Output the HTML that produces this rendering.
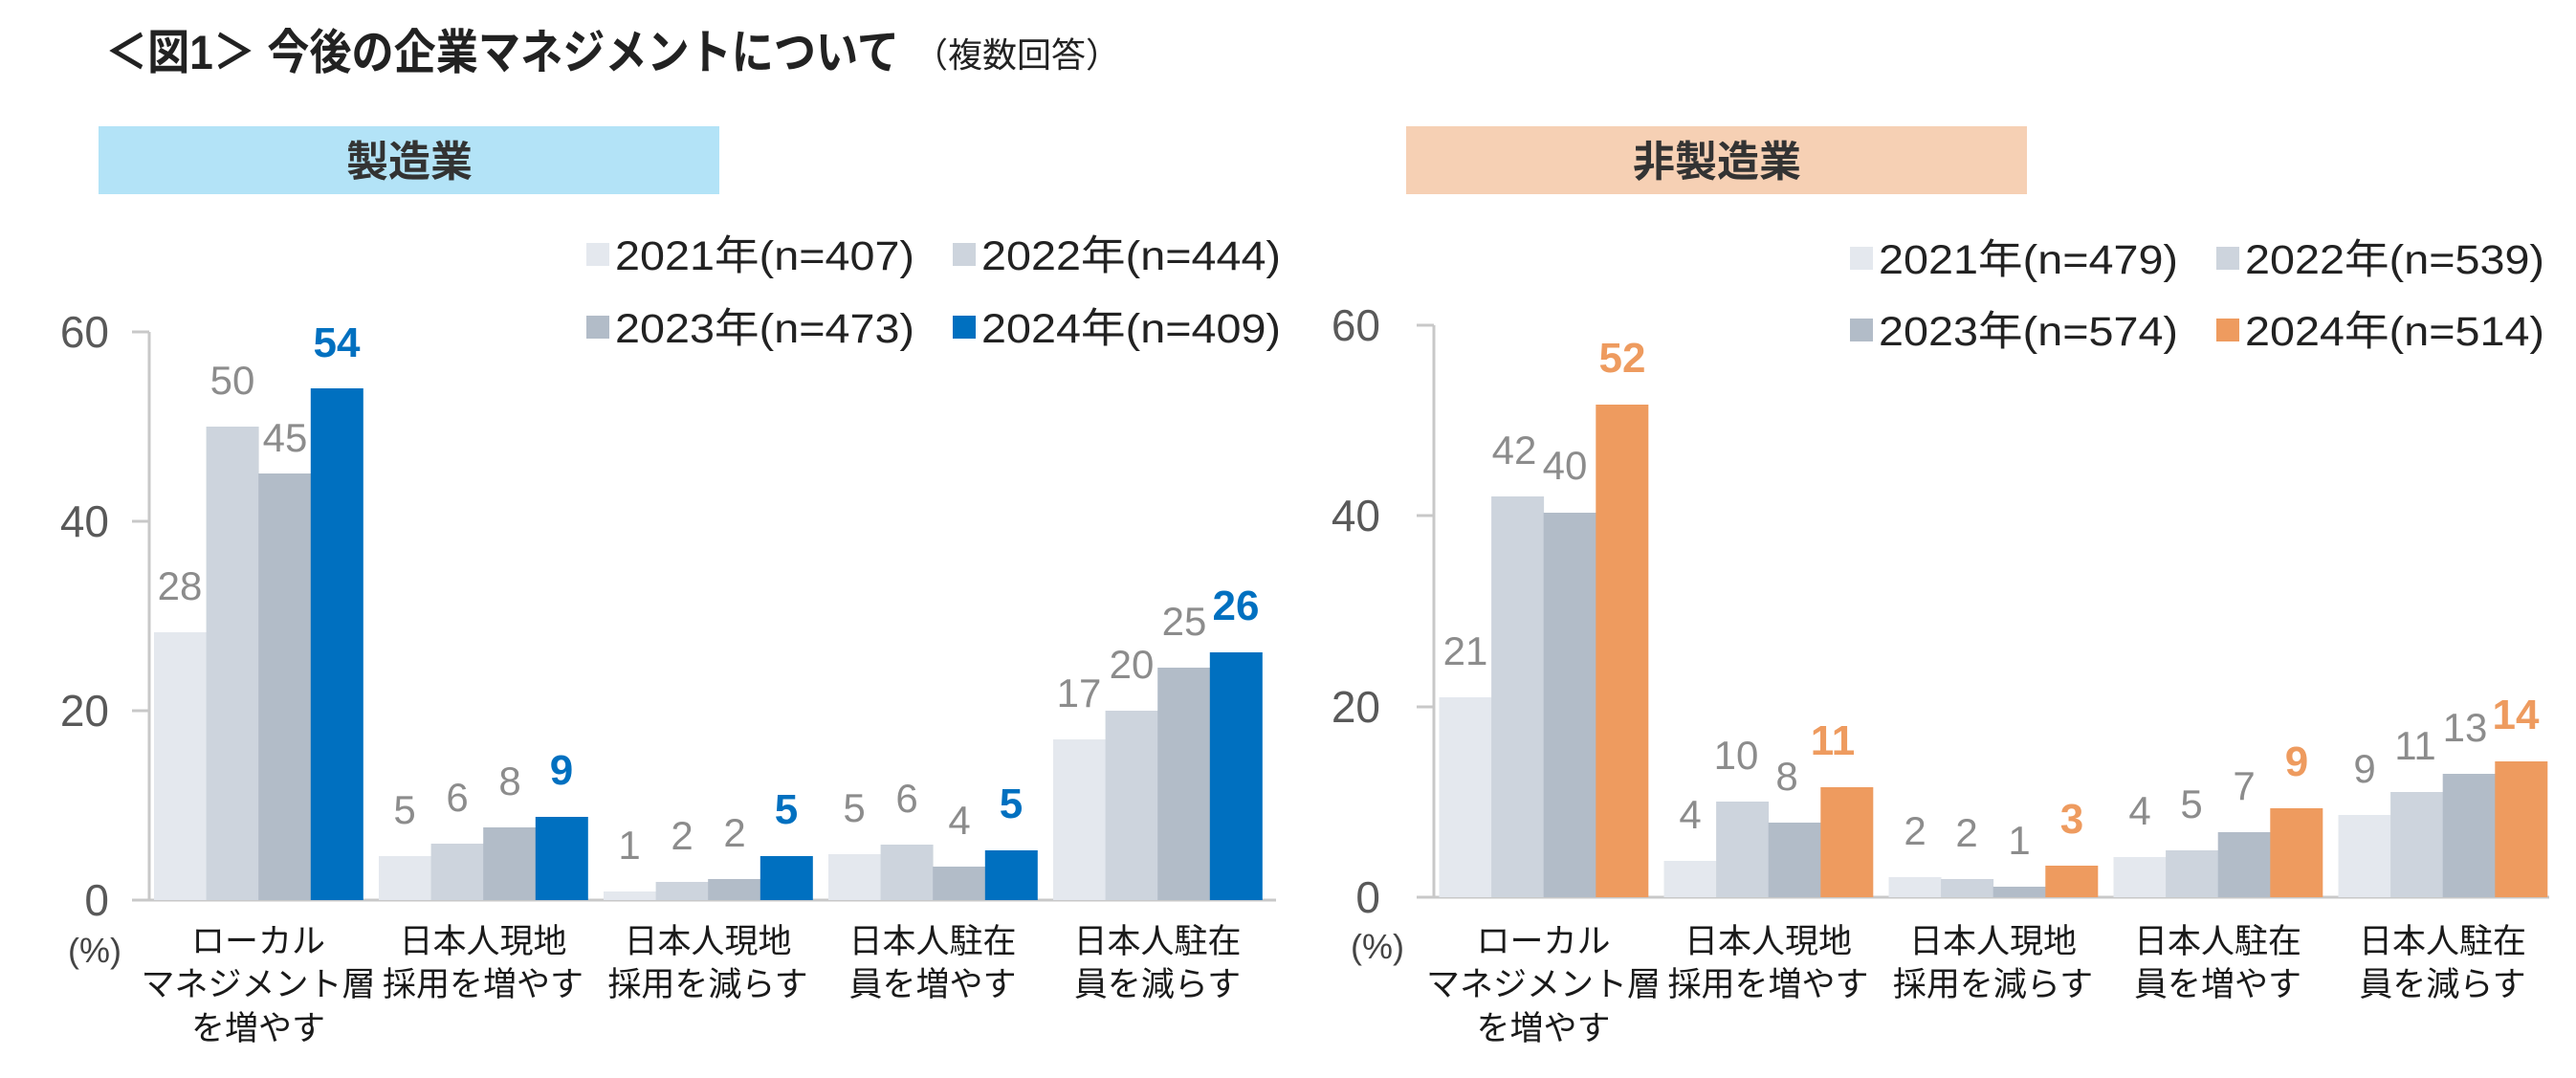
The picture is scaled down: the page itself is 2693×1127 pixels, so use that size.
<!DOCTYPE html>
<html><head><meta charset="utf-8"><style>
html,body{margin:0;padding:0;background:#fff;}
svg{display:block;font-family:"Liberation Sans","Noto Sans CJK JP",sans-serif;}
.t{font-size:46px;fill:#595959;}
.v{font-size:42px;fill:#8c8c8c;text-anchor:middle;}
.vb{font-size:44px;font-weight:bold;text-anchor:middle;}
.lg{font-size:43px;fill:#222;}
.c{font-size:35px;fill:#1a1a1a;text-anchor:middle;}
</style></head><body>
<svg width="2693" height="1127" viewBox="0 0 2693 1127" xmlns="http://www.w3.org/2000/svg">
<text x="110" y="72" font-size="50" font-weight="bold" fill="#222" textLength="830" lengthAdjust="spacingAndGlyphs">＜図1＞ 今後の企業マネジメントについて</text>
<text x="955" y="70" font-size="36" fill="#222">（複数回答）</text>
<rect x="103" y="132" width="649" height="71" fill="#b3e3f7"/>
<text x="428" y="184" font-size="44" font-weight="bold" fill="#333" text-anchor="middle">製造業</text>
<rect x="1470" y="132" width="649" height="71" fill="#f6d0b4"/>
<text x="1795" y="184" font-size="44" font-weight="bold" fill="#333" text-anchor="middle">非製造業</text>

<!-- Left legend -->
<rect x="613" y="254" width="24" height="24" fill="#e4e8ee"/><text class="lg" x="643" y="282" textLength="313" lengthAdjust="spacingAndGlyphs">2021年(n=407)</text>
<rect x="996" y="254" width="24" height="24" fill="#cdd4dd"/><text class="lg" x="1026" y="282" textLength="313" lengthAdjust="spacingAndGlyphs">2022年(n=444)</text>
<rect x="613" y="330" width="24" height="24" fill="#b2bcc8"/><text class="lg" x="643" y="358" textLength="313" lengthAdjust="spacingAndGlyphs">2023年(n=473)</text>
<rect x="996" y="330" width="24" height="24" fill="#0070c0"/><text class="lg" x="1026" y="358" textLength="313" lengthAdjust="spacingAndGlyphs">2024年(n=409)</text>
<!-- Right legend -->
<rect x="1934" y="258" width="24" height="24" fill="#e4e8ee"/><text class="lg" x="1964" y="286" textLength="313" lengthAdjust="spacingAndGlyphs">2021年(n=479)</text>
<rect x="2317" y="258" width="24" height="24" fill="#cdd4dd"/><text class="lg" x="2347" y="286" textLength="313" lengthAdjust="spacingAndGlyphs">2022年(n=539)</text>
<rect x="1934" y="333" width="24" height="24" fill="#b2bcc8"/><text class="lg" x="1964" y="361" textLength="313" lengthAdjust="spacingAndGlyphs">2023年(n=574)</text>
<rect x="2317" y="333" width="24" height="24" fill="#ee9b5f"/><text class="lg" x="2347" y="361" textLength="313" lengthAdjust="spacingAndGlyphs">2024年(n=514)</text>

<!-- Left axes -->
<g stroke="#c8c8c8" stroke-width="3">
<line x1="156" y1="347" x2="156" y2="941"/>
<line x1="138" y1="941" x2="1334" y2="941"/>
<line x1="138" y1="347" x2="156" y2="347"/><line x1="138" y1="545" x2="156" y2="545"/><line x1="138" y1="743" x2="156" y2="743"/>
</g>
<text class="t" x="114" y="363" text-anchor="end">60</text><text class="t" x="114" y="561" text-anchor="end">40</text><text class="t" x="114" y="759" text-anchor="end">20</text><text class="t" x="114" y="957" text-anchor="end">0</text>
<text x="99" y="1006" font-size="36" fill="#444" text-anchor="middle">(%)</text>

<g>
<rect x="161" y="661" width="55" height="280" fill="#e4e8ee"/><rect x="215.6" y="446" width="55" height="495" fill="#cdd4dd"/><rect x="270.2" y="495" width="55" height="446" fill="#b2bcc8"/><rect x="324.8" y="406" width="55" height="535" fill="#0070c0"/>
<rect x="396" y="895" width="55" height="46" fill="#e4e8ee"/><rect x="450.6" y="882" width="55" height="59" fill="#cdd4dd"/><rect x="505.2" y="865" width="55" height="76" fill="#b2bcc8"/><rect x="559.8" y="854" width="55" height="87" fill="#0070c0"/>
<rect x="631" y="932" width="55" height="9" fill="#e4e8ee"/><rect x="685.6" y="922" width="55" height="19" fill="#cdd4dd"/><rect x="740.2" y="919" width="55" height="22" fill="#b2bcc8"/><rect x="794.8" y="895" width="55" height="46" fill="#0070c0"/>
<rect x="866" y="893" width="55" height="48" fill="#e4e8ee"/><rect x="920.6" y="883" width="55" height="58" fill="#cdd4dd"/><rect x="975.2" y="906" width="55" height="35" fill="#b2bcc8"/><rect x="1029.8" y="889" width="55" height="52" fill="#0070c0"/>
<rect x="1101" y="773" width="55" height="168" fill="#e4e8ee"/><rect x="1155.6" y="743" width="55" height="198" fill="#cdd4dd"/><rect x="1210.2" y="698" width="55" height="243" fill="#b2bcc8"/><rect x="1264.8" y="682" width="55" height="259" fill="#0070c0"/>
</g>
<g>
<text class="v" x="188" y="627">28</text><text class="v" x="243" y="412">50</text><text class="v" x="298" y="472">45</text><text class="vb" fill="#0070c0" x="352" y="373">54</text>
<text class="v" x="423" y="861">5</text><text class="v" x="478" y="848">6</text><text class="v" x="533" y="831">8</text><text class="vb" fill="#0070c0" x="587" y="820">9</text>
<text class="v" x="658" y="898">1</text><text class="v" x="713" y="888">2</text><text class="v" x="768" y="885">2</text><text class="vb" fill="#0070c0" x="822" y="861">5</text>
<text class="v" x="893" y="859">5</text><text class="v" x="948" y="849">6</text><text class="v" x="1003" y="872">4</text><text class="vb" fill="#0070c0" x="1057" y="855">5</text>
<text class="v" x="1128" y="739">17</text><text class="v" x="1183" y="709">20</text><text class="v" x="1238" y="664">25</text><text class="vb" fill="#0070c0" x="1292" y="648">26</text>
</g>
<g>
<text class="c" x="270" y="996">ローカル</text><text class="c" x="270" y="1041">マネジメント層</text><text class="c" x="270" y="1087">を増やす</text>
<text class="c" x="505" y="996">日本人現地</text><text class="c" x="505" y="1041">採用を増やす</text>
<text class="c" x="740" y="996">日本人現地</text><text class="c" x="740" y="1041">採用を減らす</text>
<text class="c" x="975" y="996">日本人駐在</text><text class="c" x="975" y="1041">員を増やす</text>
<text class="c" x="1210" y="996">日本人駐在</text><text class="c" x="1210" y="1041">員を減らす</text>
</g>

<!-- Right axes -->
<g stroke="#c8c8c8" stroke-width="3">
<line x1="1499" y1="340" x2="1499" y2="938"/>
<line x1="1481" y1="938" x2="2665" y2="938"/>
<line x1="1481" y1="340" x2="1499" y2="340"/><line x1="1481" y1="539" x2="1499" y2="539"/><line x1="1481" y1="739" x2="1499" y2="739"/>
</g>
<text class="t" x="1443" y="356" text-anchor="end">60</text><text class="t" x="1443" y="555" text-anchor="end">40</text><text class="t" x="1443" y="755" text-anchor="end">20</text><text class="t" x="1443" y="954" text-anchor="end">0</text>
<text x="1440" y="1002" font-size="36" fill="#444" text-anchor="middle">(%)</text>
<g>
<rect x="1504.5" y="729" width="55" height="209" fill="#e4e8ee"/><rect x="1559.1" y="519" width="55" height="419" fill="#cdd4dd"/><rect x="1613.7" y="536" width="55" height="402" fill="#b2bcc8"/><rect x="1668.3" y="423" width="55" height="515" fill="#ee9b5f"/>
<rect x="1739.5" y="900" width="55" height="38" fill="#e4e8ee"/><rect x="1794.1" y="838" width="55" height="100" fill="#cdd4dd"/><rect x="1848.7" y="860" width="55" height="78" fill="#b2bcc8"/><rect x="1903.3" y="823" width="55" height="115" fill="#ee9b5f"/>
<rect x="1974.5" y="917" width="55" height="21" fill="#e4e8ee"/><rect x="2029.1" y="919" width="55" height="19" fill="#cdd4dd"/><rect x="2083.7" y="927" width="55" height="11" fill="#b2bcc8"/><rect x="2138.3" y="905" width="55" height="33" fill="#ee9b5f"/>
<rect x="2209.5" y="896" width="55" height="42" fill="#e4e8ee"/><rect x="2264.1" y="889" width="55" height="49" fill="#cdd4dd"/><rect x="2318.7" y="870" width="55" height="68" fill="#b2bcc8"/><rect x="2373.3" y="845" width="55" height="93" fill="#ee9b5f"/>
<rect x="2444.5" y="852" width="55" height="86" fill="#e4e8ee"/><rect x="2499.1" y="828" width="55" height="110" fill="#cdd4dd"/><rect x="2553.7" y="809" width="55" height="129" fill="#b2bcc8"/><rect x="2608.3" y="796" width="55" height="142" fill="#ee9b5f"/>
</g>
<g>
<text class="v" x="1532" y="695">21</text><text class="v" x="1583" y="485">42</text><text class="v" x="1636" y="501">40</text><text class="vb" fill="#ee9b5f" x="1696" y="389">52</text>
<text class="v" x="1767" y="866">4</text><text class="v" x="1815" y="804">10</text><text class="v" x="1868" y="826">8</text><text class="vb" fill="#ee9b5f" x="1916" y="789">11</text>
<text class="v" x="2002" y="883">2</text><text class="v" x="2056" y="885">2</text><text class="v" x="2111" y="893">1</text><text class="vb" fill="#ee9b5f" x="2166" y="871">3</text>
<text class="v" x="2237" y="862">4</text><text class="v" x="2291" y="855">5</text><text class="v" x="2346" y="836">7</text><text class="vb" fill="#ee9b5f" x="2401" y="811">9</text>
<text class="v" x="2472" y="818">9</text><text class="v" x="2525" y="794">11</text><text class="v" x="2577" y="775">13</text><text class="vb" fill="#ee9b5f" x="2630" y="762">14</text>
</g>
<g>
<text class="c" x="1613.5" y="996">ローカル</text><text class="c" x="1613.5" y="1041">マネジメント層</text><text class="c" x="1613.5" y="1087">を増やす</text>
<text class="c" x="1848.5" y="996">日本人現地</text><text class="c" x="1848.5" y="1041">採用を増やす</text>
<text class="c" x="2083.5" y="996">日本人現地</text><text class="c" x="2083.5" y="1041">採用を減らす</text>
<text class="c" x="2318.5" y="996">日本人駐在</text><text class="c" x="2318.5" y="1041">員を増やす</text>
<text class="c" x="2553.5" y="996">日本人駐在</text><text class="c" x="2553.5" y="1041">員を減らす</text>
</g>
</svg>
</body></html>
